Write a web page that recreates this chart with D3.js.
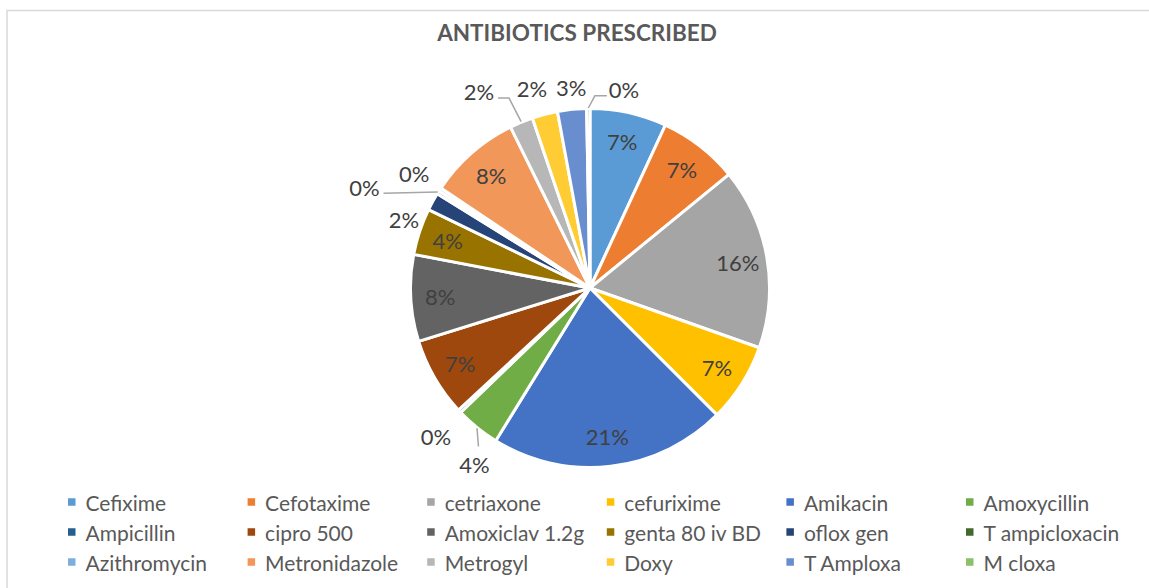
<!DOCTYPE html>
<html>
<head>
<meta charset="utf-8">
<script src="https://cdn.jsdelivr.net/npm/d3@7"></script>
<style>
body { margin: 0; background: #fff; }
text { font-family: Lato, "Open Sans", sans-serif; }
</style>
</head>
<body>
<svg id="chart" width="1149" height="588"></svg>
<script>
// slice order is clockwise from 12 o'clock
var drugs = ["Cefixime", "Cefotaxime", "cetriaxone", "cefurixime", "Amikacin", "Amoxycillin",
             "Ampicillin", "cipro 500", "Amoxiclav 1.2g", "genta 80 iv BD", "oflox gen", "T ampicloxacin",
             "Azithromycin", "Metronidazole", "Metrogyl", "Doxy", "T Amploxa", "M cloxa"];
// share of prescriptions, in percent
var share = [6.9, 7.2, 16.3, 7.1, 21.3, 4.0,
             0.3, 7.1, 7.8, 4.2, 1.6, 0.3,
             0.3, 8.3, 2.1, 2.3, 2.6, 0.3];
var colors = ["#5B9BD5", "#ED7D31", "#A5A5A5", "#FFC000", "#4472C4", "#70AD47",
              "#255E91", "#9E480E", "#636363", "#997300", "#264478", "#43682B",
              "#7CAFDD", "#F1975A", "#B7B7B7", "#FFCD33", "#698ED0", "#8CC168"];

// labels that excel pushed outside the pie: [angle deg, radius]
var outsideLabels = {
  "Amoxycillin": [213.2, 211],
  "Ampicillin": [226, 214],
  "oflox gen": [290.1, 198],
  "T ampicloxacin": [294.1, 247],
  "Azithromycin": [303.2, 210],
  "Metrogyl": [330.6, 226],
  "Doxy": [343.8, 208],
  "T Amploxa": [354.6, 201],
  "M cloxa": [9.7, 201]
};
// leader lines: [attach dx, attach dy, elbow dx] from the label centre
var leaders = {
  "Amoxycillin": [4, -18, 0],
  "T ampicloxacin": [19, 6, 0],
  "Metrogyl": [19, 7, 11],
  "M cloxa": [-17, 6, -12]
};

var cx = 590, cy = 288, R = 179.5;

var svg = d3.select("#chart");

// chart area border
svg.append("rect")
  .attr("x", 7).attr("y", 10.5)
  .attr("width", 1170).attr("height", 600)
  .attr("fill", "none")
  .attr("stroke", "#d9d9d9")
  .attr("stroke-width", 1.5);

svg.append("text")
  .attr("x", 577).attr("y", 32)
  .attr("text-anchor", "middle")
  .attr("dominant-baseline", "central")
  .attr("font-size", 22.5)
  .attr("font-weight", "bold")
  .attr("fill", "#595959")
  .text("ANTIBIOTICS PRESCRIBED");

var total = d3.sum(share);
var rows = drugs.map(function(d, i) { return {name: d, value: share[i], color: colors[i]}; });

var pie = d3.pie().sort(null).value(function(d) { return d.value; });
var arc = d3.arc().innerRadius(0).outerRadius(R);
var labelArc = d3.arc().innerRadius(150).outerRadius(150);

var g = svg.append("g").attr("transform", "translate(" + cx + "," + cy + ")");
var slices = pie(rows);

g.selectAll("path.slice")
  .data(slices)
  .enter().append("path")
  .attr("class", "slice")
  .attr("d", arc)
  .attr("fill", function(d) { return d.data.color; })
  .attr("stroke", "#fff")
  .attr("stroke-width", 3)
  .attr("stroke-linejoin", "round");

function labelPos(d) {
  var o = outsideLabels[d.data.name];
  if (o) return d3.pointRadial(o[0] * Math.PI / 180, o[1]);
  return labelArc.centroid(d);
}

// leader lines
g.selectAll("path.leader")
  .data(slices.filter(function(d) { return leaders[d.data.name]; }))
  .enter().append("path")
  .attr("class", "leader")
  .attr("fill", "none")
  .attr("stroke", "#a6a6a6")
  .attr("stroke-width", 1.5)
  .attr("d", function(d) {
    var l = leaders[d.data.name];
    var p = labelPos(d);
    var edge = d3.pointRadial((d.startAngle + d.endAngle) / 2, R + 0.5);
    var attach = [p[0] + l[0], p[1] + l[1]];
    var pts = [edge];
    if (l[2]) pts.push([attach[0] + l[2], attach[1]]);
    pts.push(attach);
    return d3.line()(pts);
  });

g.selectAll("text.pct")
  .data(slices)
  .enter().append("text")
  .attr("class", "pct")
  .attr("transform", function(d) { return "translate(" + labelPos(d) + ")"; })
  .attr("text-anchor", "middle")
  .attr("dominant-baseline", "central")
  .attr("font-size", 22)
  .attr("fill", "#404040")
  .text(function(d) { return Math.round(d.data.value / total * 100) + "%"; });

// legend, 6 columns x 3 rows
var legend = svg.append("g");
var item = legend.selectAll("g")
  .data(rows)
  .enter().append("g")
  .attr("transform", function(d, i) {
    return "translate(" + (68 + (i % 6) * 179.6) + "," + (502 + Math.floor(i / 6) * 30) + ")";
  });
item.append("rect")
  .attr("x", 0).attr("y", -3.75)
  .attr("width", 7.5).attr("height", 7.5)
  .attr("fill", function(d) { return d.color; });
item.append("text")
  .attr("x", 17.5)
  .attr("dominant-baseline", "central")
  .attr("font-size", 21)
  .attr("fill", "#595959")
  .text(function(d) { return d.name; });
</script>
</body>
</html>
